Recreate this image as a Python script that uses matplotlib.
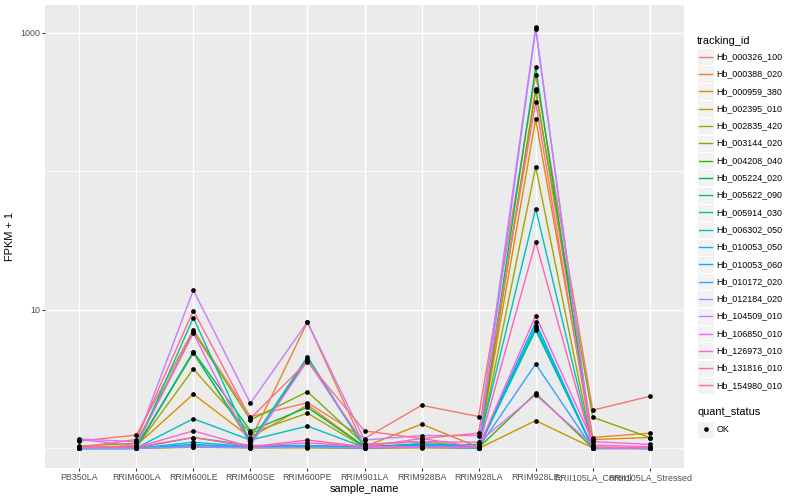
import matplotlib
matplotlib.use('Agg')
import matplotlib.pyplot as plt
from matplotlib.lines import Line2D
from matplotlib.patches import Rectangle
from matplotlib.ticker import FixedLocator, NullFormatter

plt.rcParams['font.family'] = ['Liberation Sans', 'DejaVu Sans']

samples = ['PB350LA', 'RRIM600LA', 'RRIM600LE', 'RRIM600SE', 'RRIM600PE', 'RRIM901LA',
           'RRIM928BA', 'RRIM928LA', 'RRIM928LE', 'RRII105LA_Control', 'RRII105LA_Stressed']

tracking_ids = ['Hb_000326_100', 'Hb_000388_020', 'Hb_000959_380', 'Hb_002395_010', 'Hb_002835_420',
                'Hb_003144_020', 'Hb_004208_040', 'Hb_005224_020', 'Hb_005622_090', 'Hb_005914_030',
                'Hb_006302_050', 'Hb_010053_050', 'Hb_010053_060', 'Hb_010172_020', 'Hb_012184_020',
                'Hb_104509_010', 'Hb_106850_010', 'Hb_126973_010', 'Hb_131816_010', 'Hb_154980_010']

# ggplot default hue palette for 20 levels
colors = ['#F8766D', '#EA8331', '#D89000', '#C09B00', '#A3A500', '#7CAE00', '#39B600', '#00BB4E',
          '#00BF7D', '#00C1A3', '#00BFC4', '#00BAE0', '#00B0F6', '#35A2FF', '#9590FF', '#C77CFF',
          '#E76BF3', '#FA62DB', '#FF62BC', '#FF6C91']

# FPKM + 1, one row per tracking_id, one value per sample
fpkm = [
    [1.13, 1.25, 7.17, 1.70, 2.14, 1.18, 2.05, 1.70, 497, 1.89, 2.38],
    [1.01, 1.03, 4.87, 1.15, 8.19, 1.02, 1.05, 1.01, 395, 1.20, 1.29],
    [1.01, 1.05, 2.47, 1.20, 2.06, 1.03, 1.50, 1.02, 238, 1.16, 1.20],
    [1.00, 1.00, 1.02, 1.01, 1.01, 1.00, 1.01, 1.00, 1.59, 1.01, 1.01],
    [1.01, 1.02, 3.75, 1.29, 1.80, 1.02, 1.03, 1.01, 108, 1.01, 1.01],
    [1.04, 1.09, 6.97, 1.61, 2.57, 1.07, 1.12, 1.02, 381, 1.68, 1.20],
    [1.01, 1.01, 1.20, 1.05, 1.05, 1.03, 1.08, 1.01, 2.50, 1.01, 1.01],
    [1.01, 1.02, 5.00, 1.34, 1.98, 1.03, 1.05, 1.01, 565, 1.02, 1.01],
    [1.00, 1.01, 4.95, 1.10, 4.41, 1.02, 1.03, 1.01, 7.17, 1.01, 1.00],
    [1.00, 1.01, 8.80, 1.10, 4.60, 1.02, 1.03, 1.01, 7.38, 1.01, 1.00],
    [1.00, 1.01, 1.64, 1.15, 1.45, 1.02, 1.05, 1.07, 54, 1.01, 1.00],
    [1.00, 1.00, 1.11, 1.03, 1.05, 1.01, 1.05, 1.02, 7.66, 1.01, 1.00],
    [1.00, 1.00, 1.07, 1.02, 1.03, 1.01, 1.08, 1.02, 8.15, 1.00, 1.00],
    [1.00, 1.00, 1.05, 1.02, 1.02, 1.01, 1.03, 1.01, 4.07, 1.00, 1.00],
    [1.00, 1.00, 1.03, 1.01, 1.02, 1.01, 1.02, 1.01, 1069, 1.00, 1.00],
    [1.17, 1.12, 13.9, 2.12, 8.19, 1.15, 1.24, 1.24, 1099, 1.02, 1.01],
    [1.16, 1.05, 6.79, 1.05, 4.30, 1.07, 1.12, 1.11, 2.44, 1.06, 1.03],
    [1.02, 1.02, 1.34, 1.03, 1.10, 1.03, 1.03, 1.02, 9.10, 1.12, 1.07],
    [1.02, 1.02, 1.20, 1.03, 1.15, 1.03, 1.18, 1.02, 31, 1.01, 1.01],
    [1.02, 1.16, 9.90, 1.65, 4.24, 1.34, 1.18, 1.29, 316, 1.02, 1.01],
]

W, H = 800, 500
fig = plt.figure(figsize=(8, 5), dpi=100)
# panel in pixels: left 45, right 684, top 5, bottom 468
ax = fig.add_axes([45 / W, 1 - 468 / H, (684 - 45) / W, (468 - 5) / H])
ax.set_facecolor('#EBEBEB')
for s in ax.spines.values():
    s.set_visible(False)

x = list(range(len(samples)))
for vals, c in zip(fpkm, colors):
    ax.plot(x, vals, color=c, lw=1.0, zorder=3)
for vals in fpkm:
    ax.plot(x, vals, 'o', color='black', ms=3.4, mec='none', zorder=4)

ax.set_yscale('log')
ax.set_ylim(10 ** -0.141, 10 ** 3.202)
ax.set_xlim(-0.6, len(samples) - 0.4)

ax.yaxis.set_major_locator(FixedLocator([10, 1000]))
ax.yaxis.set_minor_locator(FixedLocator([1, 100]))
ax.yaxis.set_minor_formatter(NullFormatter())
ax.set_yticklabels(['10', '1000'])
ax.set_xticks(x)
ax.set_xticklabels(samples)

ax.grid(True, which='major', color='white', lw=1.0, zorder=1)
ax.grid(True, which='minor', axis='y', color='white', lw=0.5, zorder=1)
ax.tick_params(which='major', length=2.0, width=0.8, color='#333333', labelsize=6.4,
               labelcolor='#4D4D4D', pad=1.5)
ax.tick_params(which='minor', length=0)

ax.set_xlabel('sample_name', fontsize=7.9, labelpad=1.5)
ax.set_ylabel('FPKM + 1', fontsize=7.9, labelpad=4)

# legend drawn by hand, ggplot style
def px(xp, yp):
    return xp / W, 1 - yp / H

tx, ty = px(697, 40.5)
fig.text(tx, ty, 'tracking_id', fontsize=7.9, va='center', ha='left')
row_h = 17.3
for i, (name, c) in enumerate(zip(tracking_ids, colors)):
    yc = 56.7 + i * row_h
    x0, y0 = px(697, yc + 8.5)
    fig.add_artist(Rectangle((x0, y0), 17 / W, 17 / H, transform=fig.transFigure,
                             facecolor='#F2F2F2', edgecolor='white', lw=0.8))
    lx0, lyc = px(698.5, yc)
    lx1, _ = px(711.5, yc)
    fig.add_artist(Line2D([lx0, lx1], [lyc, lyc], transform=fig.transFigure, color=c, lw=1.0))
    tx, ty = px(716.5, yc)
    fig.text(tx, ty, name, fontsize=6.4, va='center', ha='left')

tx, ty = px(697, 412.3)
fig.text(tx, ty, 'quant_status', fontsize=7.9, va='center', ha='left')
yc = 429
x0, y0 = px(697, yc + 8.5)
fig.add_artist(Rectangle((x0, y0), 17 / W, 17 / H, transform=fig.transFigure,
                         facecolor='#F2F2F2', edgecolor='white', lw=0.8))
mx, my = px(705.5, yc)
fig.add_artist(Line2D([mx], [my], transform=fig.transFigure, marker='o', color='black',
                      ms=3.4, mec='none'))
tx, ty = px(716.5, yc)
fig.text(tx, ty, 'OK', fontsize=6.4, va='center', ha='left')

fig.savefig('out.png', dpi=100)
